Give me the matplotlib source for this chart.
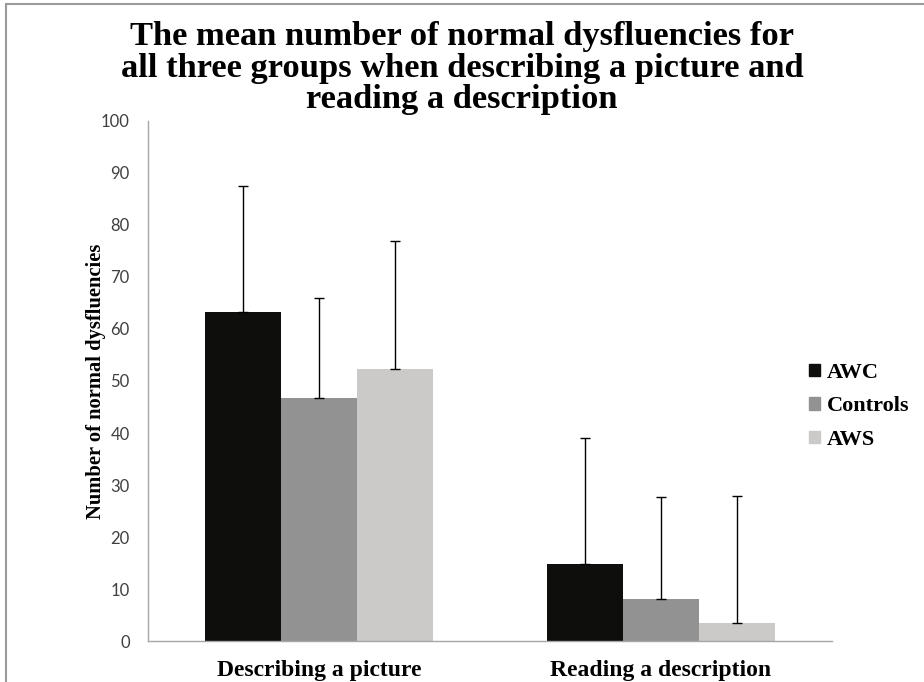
import numpy as np
import matplotlib
matplotlib.use('Agg')
import matplotlib.pyplot as plt
from matplotlib.patches import Patch, Rectangle

# data
categories = ['Describing a picture', 'Reading a description']
groups = ['AWC', 'Controls', 'AWS']
means = {
    'AWC': [63.3, 14.9],
    'Controls': [46.8, 8.1],
    'AWS': [52.4, 3.4],
}
# upper error only (sd)
errors = {
    'AWC': [24.2, 24.1],
    'Controls': [19.2, 19.5],
    'AWS': [24.5, 24.4],
}
colors = {'AWC': '#0e0f0d', 'Controls': '#929292', 'AWS': '#cbcac8'}

title = ('The mean number of normal dysfluencies for\n'
         'all three groups when describing a picture and\n'
         'reading a description')
serif = 'Liberation Serif'
sans = 'Lato'

fig = plt.figure(figsize=(9.24, 6.82), dpi=100)
ax = fig.add_axes([0.160, 0.0601, 0.740, 0.7625])

x = np.arange(len(categories))
w = 0.222
for i, g in enumerate(groups):
    pos = x + (i - 1) * w
    ax.bar(pos, means[g], width=w, color=colors[g], label=g, zorder=2)
    ax.errorbar(pos, means[g], yerr=[np.zeros(len(categories)), errors[g]],
                fmt='none', ecolor='black', elinewidth=1.0, capsize=3.3,
                capthick=1.0, zorder=3)

ax.set_xlim(-0.5, 1.5)
ax.set_ylim(0, 100)
ax.set_yticks(np.arange(0, 101, 10))
ax.set_xticks(x)
ax.set_xticklabels(categories, fontfamily=serif, fontweight='bold', fontsize=17)
ax.tick_params(axis='both', length=0)
ax.tick_params(axis='y', pad=13, labelsize=12, labelcolor='#404040')
ax.tick_params(axis='x', pad=14)
for lbl in ax.get_yticklabels():
    lbl.set_fontfamily(sans)
for s in ['top', 'right']:
    ax.spines[s].set_visible(False)
for s in ['left', 'bottom']:
    ax.spines[s].set_color('#a6a6a6')
    ax.spines[s].set_linewidth(1.0)

ax.set_ylabel('Number of normal dysfluencies', fontfamily=serif,
              fontweight='bold', fontsize=14.8, labelpad=-4)

fig.text(0.5, 0.9, title, ha='center', va='center', fontfamily=serif,
         fontweight='bold', fontsize=24.8, linespacing=1.02)

handles = [Patch(color=colors[g], label=g) for g in groups]
fig.legend(handles=handles, loc='upper left', bbox_to_anchor=(0.8755, 0.468),
           frameon=False, borderpad=0, borderaxespad=0, handlelength=0.5,
           handleheight=0.5, handletextpad=0.3, labelspacing=0.61,
           prop={'family': serif, 'weight': 'bold', 'size': 16})

# thin grey frame round the picture
fig.patches.append(Rectangle((0.006, -0.01), 1.1, 1.004, transform=fig.transFigure,
                             fill=False, edgecolor='#9a9a9a', linewidth=1.5))

fig.savefig('out.png', dpi=100)
